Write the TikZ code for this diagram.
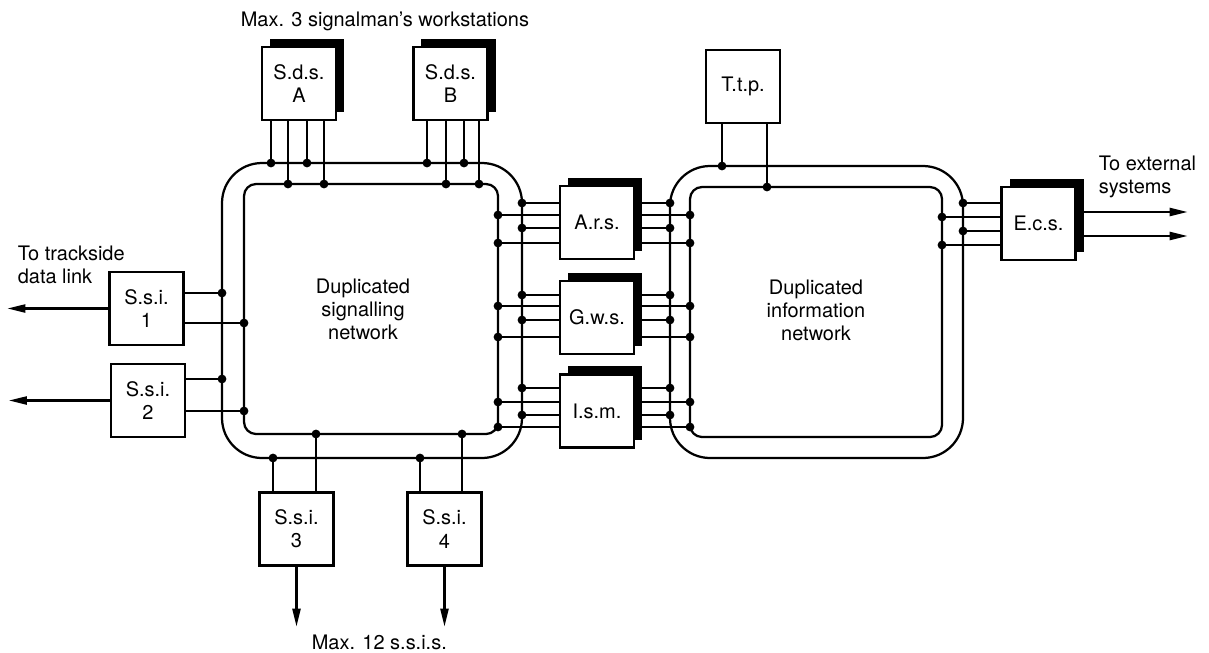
\documentclass[tikz,border=0pt]{standalone}
\usepackage{fontspec}
\setmainfont{TeX Gyre Heros}
\usetikzlibrary{arrows.meta,shadows}
\begin{document}
\begin{tikzpicture}[x=0.025cm,y=-0.025cm,line width=1.6pt,
  font=\fontsize{14.2}{16.4}\selectfont,
  unit/.style={draw,fill=white,align=center,inner sep=0pt,minimum width=1.85cm,minimum height=1.83cm},
  stacked/.style={unit,general shadow={fill=black,shadow xshift=0.2cm,shadow yshift=0.2cm}},
  dot/.style={circle,fill,inner sep=0pt,minimum size=0.22cm},
  feed/.style={-{Triangle[length=0.45cm,width=0.2cm]}}]
\useasboundingbox (0,0) rectangle (1209,652);

\coordinate (so1) at (222,163);
\coordinate (so2) at (522,458);
\coordinate (si1) at (244,184);
\coordinate (si2) at (498,434);
\coordinate (io1) at (670,166);
\coordinate (io2) at (963,458);
\coordinate (ii1) at (690,187);
\coordinate (ii2) at (942,437);
\draw[rounded corners=1cm] (so1) rectangle (so2);
\draw[rounded corners=0.3cm] (si1) rectangle (si2);
\draw[rounded corners=1cm] (io1) rectangle (io2);
\draw[rounded corners=0.3cm] (ii1) rectangle (ii2);

\node[stacked] (sdsA) at (299,83.5) {S.d.s.\\A};
\node[stacked] (sdsB) at (450.5,83.5) {S.d.s.\\B};
\node[unit] (ttp) at (743,86.5) {T.t.p.};
\node[stacked] (ars) at (597,222.5) {A.r.s.};
\node[stacked] (gws) at (597,317.5) {G.w.s.};
\node[stacked] (ism) at (597,411) {I.s.m.};
\node[stacked] (ecs) at (1038.5,223.5) {E.c.s.};
\node[unit] (ssi1) at (146.5,308.5) {S.s.i.\\1};
\node[unit] (ssi2) at (148,400.5) {S.s.i.\\2};
\node[unit] (ssi3) at (296.5,529) {S.s.i.\\3};
\node[unit] (ssi4) at (444.5,529) {S.s.i.\\4};

\foreach \x/\r in {271/so1,288/si1,307/so1,324/si1}
  \draw (\x,0 |- sdsA.south) -- (\x,0 |- \r) node[dot] {};
\foreach \x/\r in {427/so1,446/si1,464/so1,479/si1}
  \draw (\x,0 |- sdsB.south) -- (\x,0 |- \r) node[dot] {};
\foreach \x/\r in {722/io1,767/ii1}
  \draw (\x,0 |- ttp.south) -- (\x,0 |- \r) node[dot] {};

\foreach \b/\ya/\yb/\yc/\yd in {ars/203/215/228/243,gws/295/306/320/337,ism/388/402/415/427}{
  \draw (\b.west |- 0,\ya) -- (so2 |- 0,\ya) node[dot] {};
  \draw (\b.west |- 0,\yb) -- (si2 |- 0,\yb) node[dot] {};
  \draw (\b.west |- 0,\yc) -- (so2 |- 0,\yc) node[dot] {};
  \draw (\b.west |- 0,\yd) -- (si2 |- 0,\yd) node[dot] {};
  \draw (\b.east |- 0,\ya) -- (io1 |- 0,\ya) node[dot] {};
  \draw (\b.east |- 0,\yb) -- (ii1 |- 0,\yb) node[dot] {};
  \draw (\b.east |- 0,\yc) -- (io1 |- 0,\yc) node[dot] {};
  \draw (\b.east |- 0,\yd) -- (ii1 |- 0,\yd) node[dot] {};
}
\foreach \y/\r in {203/io2,217/ii2,231/io2,245/ii2}
  \draw (ecs.west |- 0,\y) -- (\r |- 0,\y) node[dot] {};
\draw[feed] (ecs.east |- 0,212) -- ++(111,0);
\draw[feed] (ecs.east |- 0,236) -- ++(111,0);

\foreach \b/\ya/\yb in {ssi1/293/323,ssi2/379/411}{
  \draw (\b.east |- 0,\ya) -- (so1 |- 0,\ya) node[dot] {};
  \draw (\b.east |- 0,\yb) -- (si1 |- 0,\yb) node[dot] {};
  \draw[feed] (\b.west) -- ++(-101,0);
}
\foreach \b/\xa/\xb in {ssi3/273/316,ssi4/420/462}{
  \draw (\xa,0 |- \b.north) -- (\xa,0 |- so2) node[dot] {};
  \draw (\xb,0 |- \b.north) -- (\xb,0 |- si2) node[dot] {};
  \draw[feed] (\b.south) -- ++(0,60);
}

\node[anchor=base west] (wslabel) at (235,26) {Max. 3 signalman's workstations};
\node[anchor=base west] (ssilabel) at (306,649) {Max. 12 s.s.i.s.};
\node[anchor=west,align=left] (tslabel) at (12,265) {To trackside\\data link};
\node[anchor=west,align=left] (extlabel) at (1093,177) {To external\\systems};
\node[align=center] (signet) at (363,309) {Duplicated\\signalling\\network};
\node[align=center] (infnet) at (816,310) {Duplicated\\information\\network};
\end{tikzpicture}
\end{document}
